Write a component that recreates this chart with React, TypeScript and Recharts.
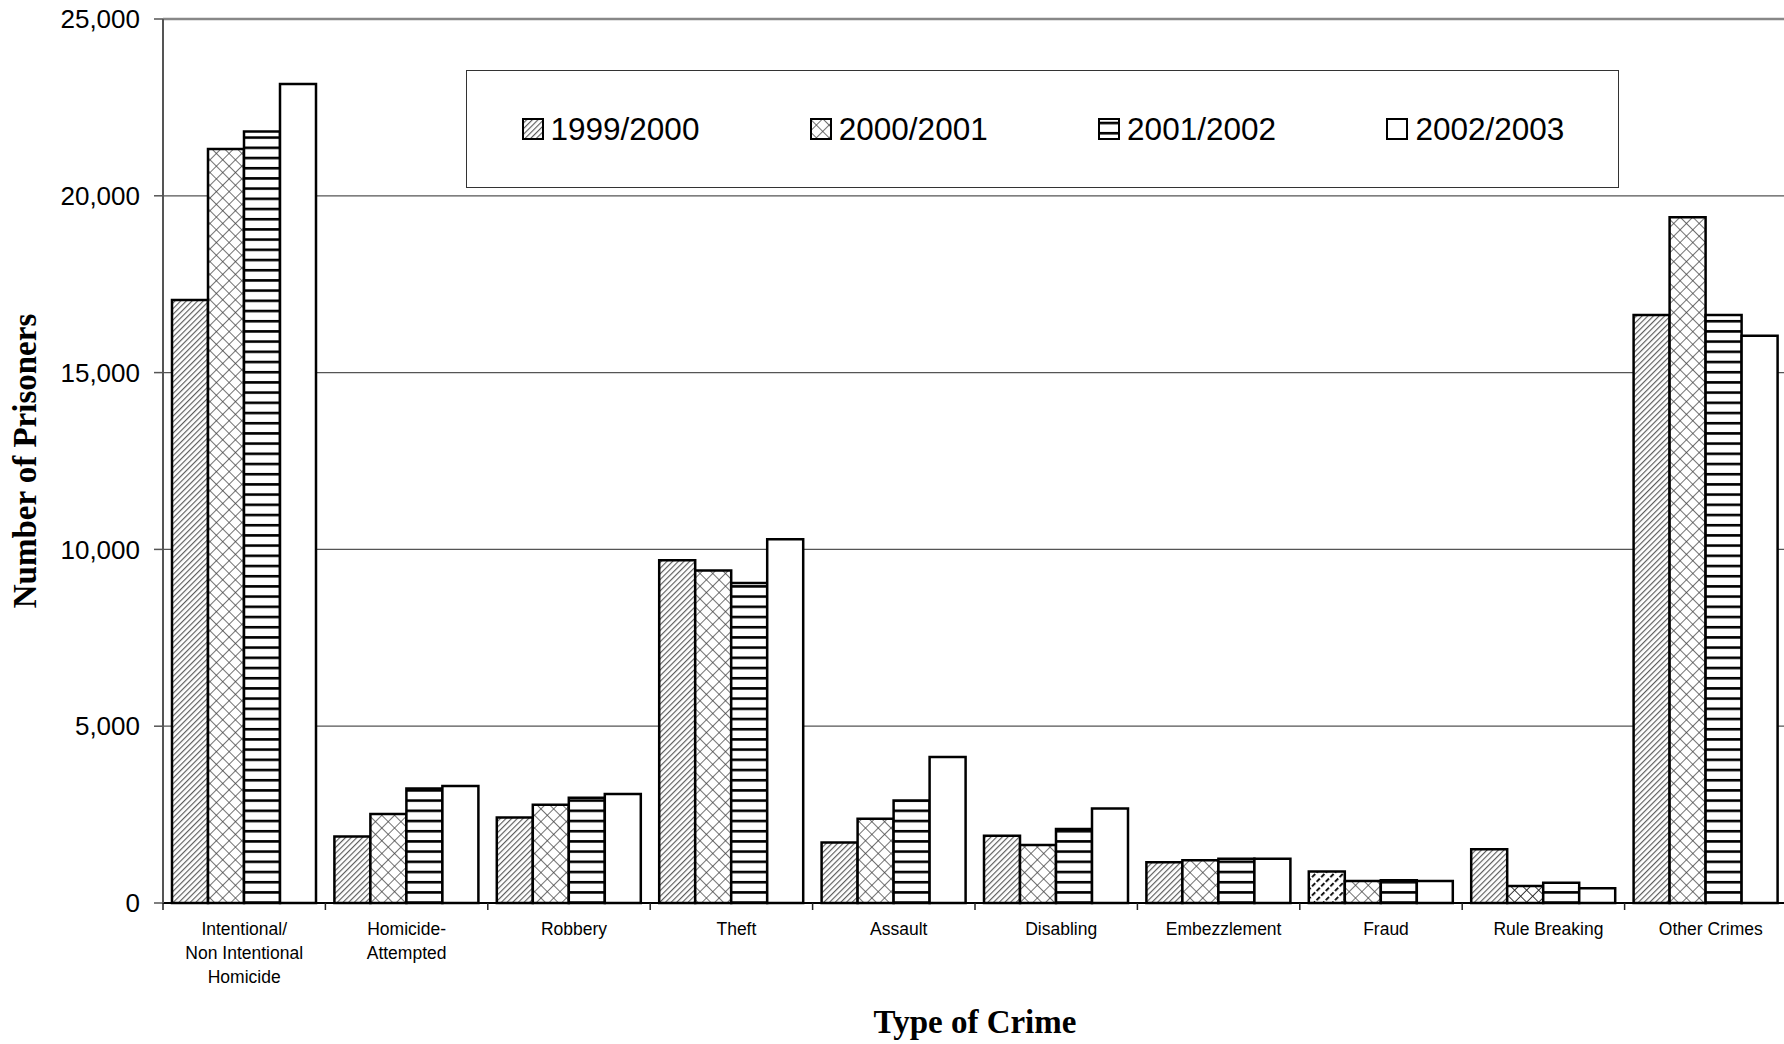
import React from 'react'
import { BarChart, Bar, XAxis, YAxis, CartesianGrid, Legend, Cell, ReferenceLine } from 'recharts'

// crime categories (\n = line break in the tick label)
const categories = [
  'Intentional/\nNon Intentional\nHomicide',
  'Homicide-\nAttempted',
  'Robbery',
  'Theft',
  'Assault',
  'Disabling',
  'Embezzlement',
  'Fraud',
  'Rule Breaking',
  'Other Crimes',
]
const seriesNames = ['1999/2000', '2000/2001', '2001/2002', '2002/2003']

const prisoners1999 = [17050, 1880, 2420, 9690, 1710, 1900, 1150, 890, 1520, 16630]
const prisoners2000 = [21320, 2520, 2780, 9400, 2380, 1640, 1210, 620, 480, 19390]
const prisoners2001 = [21820, 3240, 2980, 9050, 2900, 2090, 1250, 640, 570, 16630]
const prisoners2002 = [23160, 3310, 3080, 10290, 4130, 2670, 1250, 620, 420, 16040]

const yTicks = [0, 5000, 10000, 15000, 20000, 25000]

const data = categories.map((crime, i) => ({
  crime,
  y1999: prisoners1999[i],
  y2000: prisoners2000[i],
  y2001: prisoners2001[i],
  y2002: prisoners2002[i],
}))

const SANS = '"Liberation Sans", Arial, sans-serif'
const SERIF = '"Liberation Serif", "Times New Roman", serif'

const CHART_W = 1800
const CHART_H = 1044
const MARGIN = { top: 19, right: 13, left: 0, bottom: 0 }
const Y_AXIS_W = 163
const X_AXIS_H = 141
const PLOT_W = CHART_W - MARGIN.left - MARGIN.right - Y_AXIS_W
const BAND = PLOT_W / categories.length

function CrimeTick(props: any) {
  const { x, y, payload, index } = props
  const lines = String(payload.value).split('\n')
  // excel nudges the single-line labels a little to the right
  const tx = lines.length > 1 ? x : x + 5
  return (
    <g>
      <line x1={x - BAND / 2} x2={x - BAND / 2} y1={y} y2={y + 7} stroke="#222" strokeWidth={1.5} />
      {index === categories.length - 1 && (
        <line x1={x + BAND / 2} x2={x + BAND / 2} y1={y} y2={y + 7} stroke="#222" strokeWidth={1.5} />
      )}
      <text x={tx} y={y + 32} textAnchor="middle" fontSize={17.5} fontFamily={SANS} fill="#000">
        {lines.map((l, i) => (
          <tspan key={i} x={tx} dy={i === 0 ? 0 : 24}>
            {l}
          </tspan>
        ))}
      </text>
    </g>
  )
}

const renderYLabel = (props: any) => {
  const vb = props.viewBox || {}
  const cx = 25
  const cy = (vb.y ?? MARGIN.top) + (vb.height ?? CHART_H - MARGIN.top - X_AXIS_H) / 2
  return (
    <text
      x={cx}
      y={cy}
      transform={`rotate(-90 ${cx} ${cy})`}
      textAnchor="middle"
      dominantBaseline="central"
      fontSize={33}
      fontWeight="bold"
      fontFamily={SERIF}
      fill="#000"
    >
      Number of Prisoners
    </text>
  )
}

const renderLegend = (props: any) => {
  const { payload = [] } = props
  return (
    <div style={{ position: 'relative', width: '100%', height: '100%' }}>
      {payload.map((entry: any, i: number) => (
        <div
          key={entry.value}
          style={{
            position: 'absolute',
            left: 54.5 + i * 288.3,
            top: 0,
            height: '100%',
            display: 'flex',
            alignItems: 'center',
          }}
        >
          <svg width={22} height={22} style={{ display: 'block' }}>
            <rect x={1} y={1} width={20} height={20} fill={entry.color} stroke="#000" strokeWidth={2} />
          </svg>
          <span style={{ marginLeft: 7, fontSize: 31.5, fontFamily: SANS, color: '#000' }}>{entry.value}</span>
        </div>
      ))}
    </div>
  )
}

export default function App() {
  return (
    <div
      style={{
        position: 'fixed',
        left: 0,
        top: 0,
        width: 1784,
        height: 1044,
        overflow: 'hidden',
        background: '#fff',
        fontFamily: SANS,
      }}
    >
      <BarChart width={CHART_W} height={CHART_H} data={data} margin={MARGIN} barSize={36} barGap={0}>
        <defs>
          <pattern id="p-diag" width={4} height={4} patternUnits="userSpaceOnUse" patternTransform="rotate(45)">
            <rect width={4} height={4} fill="#fff" />
            <line x1={0.6} y1={0} x2={0.6} y2={4} stroke="#555" strokeWidth={1.1} />
          </pattern>
          <pattern id="p-diag-bold" width={6.5} height={6.5} patternUnits="userSpaceOnUse" patternTransform="rotate(45)">
            <rect width={6.5} height={6.5} fill="#fff" />
            <line x1={1} y1={0} x2={1} y2={4.5} stroke="#111" strokeWidth={2} />
          </pattern>
          <pattern id="p-cross" width={9} height={9} patternUnits="userSpaceOnUse" patternTransform="rotate(45)">
            <rect width={9} height={9} fill="#fff" />
            <line x1={0} y1={0} x2={0} y2={9} stroke="#444" strokeWidth={1.5} />
            <line x1={0} y1={0} x2={9} y2={0} stroke="#444" strokeWidth={1.5} />
          </pattern>
          <pattern id="p-cross-bold" width={8.5} height={8.5} patternUnits="userSpaceOnUse" patternTransform="rotate(45)">
            <rect width={8.5} height={8.5} fill="#fff" />
            <line x1={0} y1={0} x2={0} y2={8.5} stroke="#222" strokeWidth={1.8} />
            <line x1={0} y1={0} x2={8.5} y2={0} stroke="#222" strokeWidth={1.8} />
          </pattern>
          <pattern id="p-horiz" width={10.2} height={10.2} patternUnits="userSpaceOnUse">
            <rect width={10.2} height={10.2} fill="#fff" />
            <line x1={0} y1={5} x2={10.2} y2={5} stroke="#000" strokeWidth={2.6} />
          </pattern>
        </defs>
        <CartesianGrid vertical={false} stroke="#555" strokeWidth={1.2} />
        <XAxis
          dataKey="crime"
          height={X_AXIS_H}
          interval={0}
          tickSize={0}
          tickMargin={0}
          tickLine={false}
          axisLine={{ stroke: '#000', strokeWidth: 2 }}
          tick={<CrimeTick />}
          label={{
            value: 'Type of Crime',
            position: 'insideBottom',
            offset: 11,
            fontSize: 33,
            fontWeight: 'bold',
            fontFamily: SERIF,
            fill: '#000',
          }}
        />
        <YAxis
          width={Y_AXIS_W}
          domain={[0, 25000]}
          ticks={yTicks}
          tickSize={9}
          tickMargin={14}
          tickFormatter={(v) => Number(v).toLocaleString('en-US')}
          tick={{ fontSize: 26, fill: '#000', fontFamily: SANS }}
          axisLine={{ stroke: '#555', strokeWidth: 2 }}
          tickLine={{ stroke: '#555', strokeWidth: 1.5 }}
          label={renderYLabel}
        />
        <ReferenceLine y={25000} stroke="#888" strokeWidth={2.5} />
        <Legend
          layout="horizontal"
          verticalAlign="middle"
          align="center"
          content={renderLegend}
          wrapperStyle={{
            left: 466,
            top: 70,
            width: 1153,
            height: 118,
            border: '1.5px solid #333',
            boxSizing: 'border-box',
            background: '#fff',
          }}
        />
        <Bar dataKey="y1999" name={seriesNames[0]} fill="url(#p-diag)" stroke="#000" strokeWidth={2.5} isAnimationActive={false}>
          {data.map((d) => (
            <Cell key={d.crime} fill={d.crime === 'Fraud' ? 'url(#p-diag-bold)' : 'url(#p-diag)'} />
          ))}
        </Bar>
        <Bar dataKey="y2000" name={seriesNames[1]} fill="url(#p-cross)" stroke="#000" strokeWidth={2.5} isAnimationActive={false}>
          {data.map((d) => (
            <Cell key={d.crime} fill={d.crime === 'Rule Breaking' ? 'url(#p-cross-bold)' : 'url(#p-cross)'} />
          ))}
        </Bar>
        <Bar dataKey="y2001" name={seriesNames[2]} fill="url(#p-horiz)" stroke="#000" strokeWidth={2.5} isAnimationActive={false} />
        <Bar dataKey="y2002" name={seriesNames[3]} fill="#fff" stroke="#000" strokeWidth={2.5} isAnimationActive={false} />
      </BarChart>
    </div>
  )
}
